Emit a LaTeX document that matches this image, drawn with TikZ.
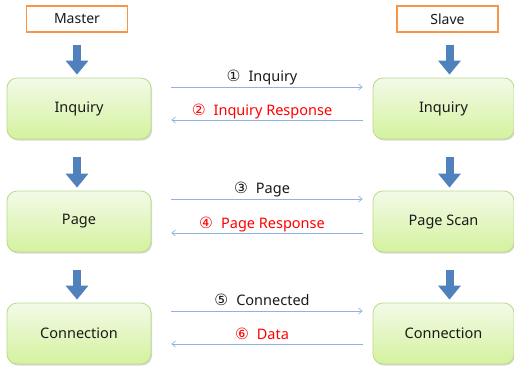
\documentclass[tikz,border=0pt]{standalone}
\usepackage{fontspec}
\setmainfont{Noto Sans}
\newfontfamily\circfont{DejaVu Sans}
\usetikzlibrary{arrows.meta,shadows}

\definecolor{stepborder}{HTML}{B9D98E}
\definecolor{steptop}{HTML}{F3FAE8}
\definecolor{stepbottom}{HTML}{D4F29E}
\definecolor{roleorange}{HTML}{F79646}
\definecolor{flowblue}{HTML}{4F81BD}
\definecolor{msgblue}{HTML}{8DB3E2}
\definecolor{msgred}{HTML}{FF0000}
\definecolor{txt}{HTML}{1A1A1A}

\tikzset{
  rolebox/.style={draw=roleorange, line width=1.3pt, fill=white,
    minimum width=101pt, minimum height=26pt, inner sep=0pt, text=txt,
    font=\fontsize{14}{16}\selectfont},
  stepbox/.style={draw=stepborder, line width=0.8pt, rounded corners=10pt,
    top color=steptop, bottom color=stepbottom, text=txt,
    drop shadow={shadow xshift=1pt, shadow yshift=-1.5pt, opacity=0.25, fill=black!60},
    minimum height=61pt, inner sep=0pt,
    font=\fontsize{14.5}{16}\selectfont},
  steptext/.style={yshift=-1.5pt},
  flow/.style={draw=flowblue, line width=8pt,
    -{Triangle[width=22pt,length=14pt]}},
  msg/.style={draw=msgblue, line width=0.7pt,
    -{Straight Barb[length=3.5pt,width=6pt,line width=0.7pt]}},
  msglabel/.style={anchor=base, inner sep=0pt, text=txt,
    font=\fontsize{14.5}{16}\selectfont},
}

\newcommand{\circnum}[1]{{\circfont\fontsize{15.5}{16}\selectfont #1}\hspace{8pt}}
\newcommand{\lowered}[1]{\raisebox{-1.5pt}{#1}}

\begin{document}
\begin{tikzpicture}[x=1pt,y=-1pt]
  \useasboundingbox (0,0) rectangle (514,367);
  \clip (0,0) rectangle (514,367);

  % role headers
  \node[rolebox] (master) at (77,19) {Master};
  \node[rolebox] (slave) at (447.5,19) {Slave};

  % master side states
  \node[stepbox, minimum width=144pt] (min) at (79,108.5) {\lowered{Inquiry}};
  \node[stepbox, minimum width=144pt] (mpage) at (79,221.5) {\lowered{Page}};
  \node[stepbox, minimum width=144pt] (mcon) at (79,333.5) {\lowered{Connection}};

  % slave side states
  \node[stepbox, minimum width=141pt] (sin) at (443.5,108.5) {\lowered{Inquiry}};
  \node[stepbox, minimum width=141pt] (sscan) at (443.5,221.5) {\lowered{Page Scan}};
  \node[stepbox, minimum width=141pt] (scon) at (443.5,333.5) {\lowered{Connection}};

  % progression arrows, master column
  \draw[flow, shorten <=12pt, shorten >=3pt] (master.south) -- (master.south |- min.north);
  \draw[flow, shorten <=18pt, shorten >=3pt] ([xshift=-2pt]min.south) -- ([xshift=-2pt]mpage.north);
  \draw[flow, shorten <=18pt, shorten >=3pt] ([xshift=-2pt]mpage.south) -- ([xshift=-2pt]mcon.north);

  % progression arrows, slave column
  \draw[flow, shorten <=12pt, shorten >=3pt] ([xshift=2pt]slave.south) -- ([xshift=2pt]slave.south |- sin.north);
  \draw[flow, shorten <=18pt, shorten >=3pt] ([xshift=6pt]sin.south) -- ([xshift=6pt]sscan.north);
  \draw[flow, shorten <=18pt, shorten >=3pt] ([xshift=6pt]sscan.south) -- ([xshift=6pt]scon.north);

  % inquiry exchange
  \draw[msg, shorten <=20pt, shorten >=10pt] ([yshift=21.5pt]min.east) -- ([yshift=21.5pt]sin.west)
    node[msglabel, midway, yshift=6pt] {\circnum{①}Inquiry};
  \draw[msg, shorten <=10pt, shorten >=20pt] ([yshift=-11.5pt]sin.west) -- ([yshift=-11.5pt]min.east)
    node[msglabel, midway, yshift=5pt, text=msgred] {\circnum{②}Inquiry Response};

  % page exchange
  \draw[msg, shorten <=20pt, shorten >=10pt] ([yshift=22.5pt]mpage.east) -- ([yshift=22.5pt]sscan.west)
    node[msglabel, midway, yshift=6pt] {\circnum{③}Page};
  \draw[msg, shorten <=10pt, shorten >=20pt] ([yshift=-11.5pt]sscan.west) -- ([yshift=-11.5pt]mpage.east)
    node[msglabel, midway, yshift=5pt, text=msgred] {\circnum{④}Page Response};

  % connection exchange
  \draw[msg, shorten <=20pt, shorten >=10pt] ([yshift=22.5pt]mcon.east) -- ([yshift=22.5pt]scon.west)
    node[msglabel, midway, yshift=6pt] {\circnum{⑤}Connected};
  \draw[msg, shorten <=10pt, shorten >=20pt] ([yshift=-10.5pt]scon.west) -- ([yshift=-10.5pt]mcon.east)
    node[msglabel, midway, yshift=5pt, text=msgred] {\circnum{⑥}Data};
\end{tikzpicture}
\end{document}
